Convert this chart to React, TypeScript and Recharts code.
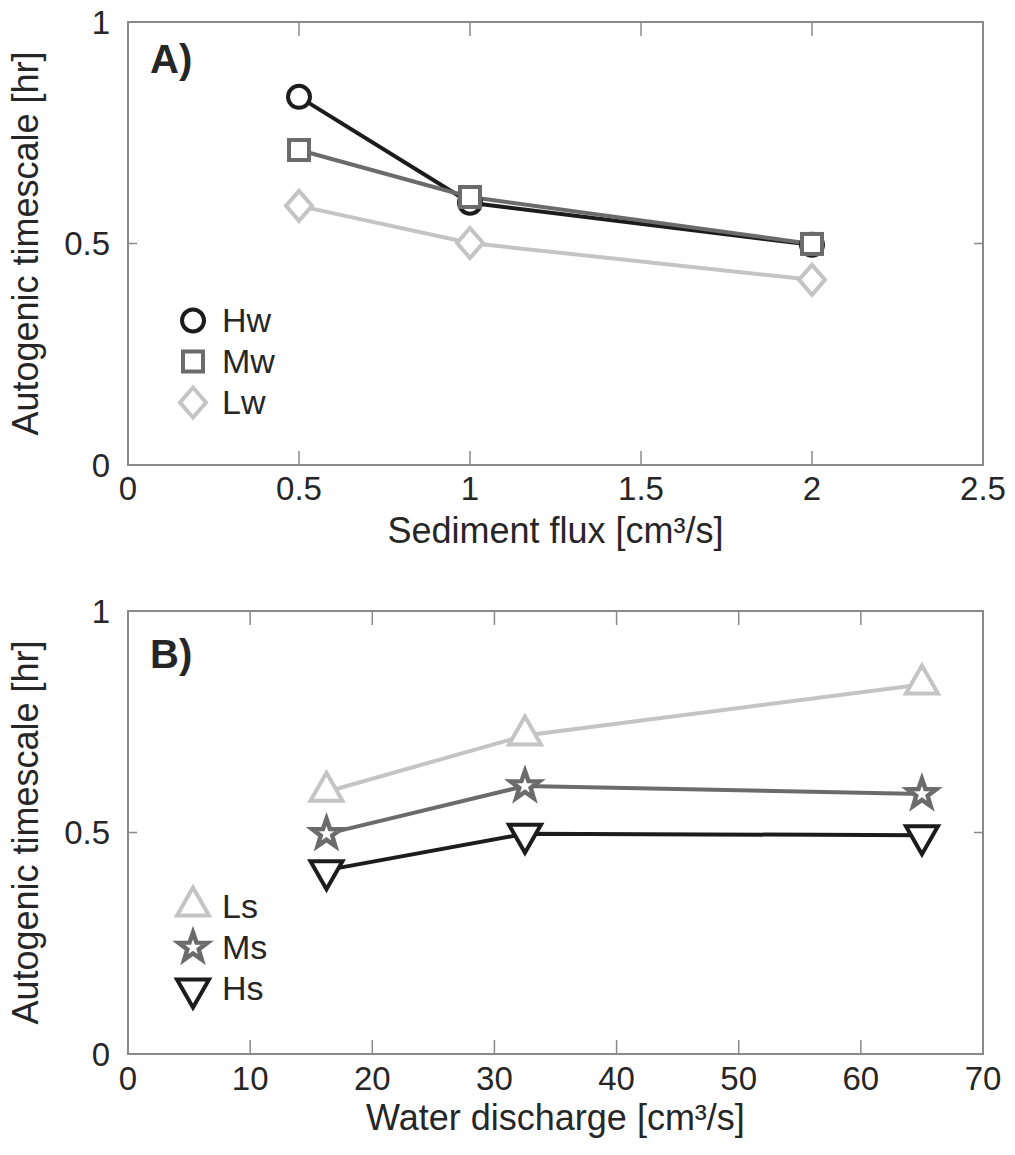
import React from 'react';
import { LineChart, Line, XAxis, YAxis, Legend, ReferenceArea } from 'recharts';

// panel A: timescale vs sediment flux
const sedimentFlux = [0.5, 1, 2];
const hw = [0.831, 0.592, 0.497];
const mw = [0.711, 0.605, 0.499];
const lw = [0.585, 0.501, 0.418];

// panel B: timescale vs water discharge
const waterDischarge = [16.25, 32.5, 65];
const ls = [0.592, 0.719, 0.834];
const ms = [0.497, 0.605, 0.587];
const hs = [0.415, 0.497, 0.494];

const fluxTicks = [0, 0.5, 1, 1.5, 2, 2.5];
const dischargeTicks = [0, 10, 20, 30, 40, 50, 60, 70];
const timeTicks = [0, 0.5, 1];

const FONT = '"Liberation Sans", Arial, Helvetica, sans-serif';
const AXIS = '#8a8a8a';
const TEXT = '#262626';
const DARK = '#1c1c1c';
const MID = '#6b6b6b';
const LIGHT = '#c4c4c4';

const dataA = sedimentFlux.map((x, i) => ({ x, Hw: hw[i], Mw: mw[i], Lw: lw[i] }));
const dataB = waterDischarge.map((x, i) => ({ x, Ls: ls[i], Ms: ms[i], Hs: hs[i] }));

const seriesA = [
  { key: 'Hw', color: DARK, shape: 'circle' },
  { key: 'Mw', color: MID, shape: 'square' },
  { key: 'Lw', color: LIGHT, shape: 'diamond' },
];
const seriesB = [
  { key: 'Ls', color: LIGHT, shape: 'up' },
  { key: 'Ms', color: MID, shape: 'star' },
  { key: 'Hs', color: DARK, shape: 'down' },
];

function Marker({ shape, cx, cy, color }: { shape: string; cx: number; cy: number; color: string }) {
  const common = { fill: '#fff', stroke: color, strokeWidth: 4, strokeLinejoin: 'miter' as const };
  if (shape === 'circle') return <circle cx={cx} cy={cy} r={11} {...common} />;
  if (shape === 'square') return <rect x={cx - 10} y={cy - 10} width={20} height={20} {...common} />;
  if (shape === 'diamond')
    return <polygon points={`${cx},${cy - 15} ${cx + 13},${cy} ${cx},${cy + 15} ${cx - 13},${cy}`} {...common} />;
  if (shape === 'up')
    return <polygon points={`${cx},${cy - 19} ${cx + 16},${cy + 9} ${cx - 16},${cy + 9}`} {...common} />;
  if (shape === 'down')
    return <polygon points={`${cx},${cy + 19} ${cx + 16},${cy - 9} ${cx - 16},${cy - 9}`} {...common} />;
  // star
  const pts: string[] = [];
  for (let k = 0; k < 10; k++) {
    const r = k % 2 === 0 ? 15 : 6;
    const a = -Math.PI / 2 + (k * Math.PI) / 5;
    pts.push(`${cx + r * Math.cos(a)},${cy + r * Math.sin(a)}`);
  }
  return <polygon points={pts.join(' ')} {...common} strokeWidth={4.5} />;
}

const legendContent = (items: typeof seriesA) => () => (
  <div style={{ fontFamily: FONT, fontSize: 34, color: TEXT }}>
    {items.map((s) => (
      <div key={s.key} style={{ display: 'flex', alignItems: 'center', height: 41 }}>
        <svg width={32} height={41} style={{ overflow: 'visible' }}>
          <Marker shape={s.shape} cx={16} cy={20.5} color={s.color} />
        </svg>
        <span style={{ marginLeft: 13 }}>{s.key}</span>
      </div>
    ))}
  </div>
);

// matlab-style ticks: pointing inward, on both opposite sides of the box
const xTick = (plotTop: number, gap: number) => (p: any) => (
  <g>
    <line x1={p.x} x2={p.x} y1={p.y} y2={p.y - 14} stroke={AXIS} strokeWidth={1.5} />
    <line x1={p.x} x2={p.x} y1={plotTop} y2={plotTop + 14} stroke={AXIS} strokeWidth={1.5} />
    <text x={p.x} y={p.y + gap} dy="0.71em" textAnchor="middle" fontSize={33} fontFamily={FONT} fill={TEXT}>
      {String(p.payload.value)}
    </text>
  </g>
);

const yTick = (plotRight: number) => (p: any) => (
  <g>
    <line x1={p.x} x2={p.x + 9} y1={p.y} y2={p.y} stroke={AXIS} strokeWidth={1.5} />
    <line x1={plotRight} x2={plotRight - 9} y1={p.y} y2={p.y} stroke={AXIS} strokeWidth={1.5} />
    <text x={p.x - 18} y={p.y} dy="0.355em" textAnchor="end" fontSize={33} fontFamily={FONT} fill={TEXT}>
      {String(p.payload.value)}
    </text>
  </g>
);

const xLabel = (text: string, dy: number) => (props: any) => {
  const vb = props.viewBox || {};
  return (
    <text x={vb.x + vb.width / 2} y={vb.y + dy} textAnchor="middle" fontSize={36} fontFamily={FONT} fill={TEXT}>
      {text}
    </text>
  );
};

const yLabel = (text: string) => (props: any) => {
  const vb = props.viewBox || {};
  const cy = vb.y + vb.height / 2;
  return (
    <text x={38} y={cy} transform={`rotate(-90, 38, ${cy})`} textAnchor="middle" fontSize={36} fontFamily={FONT} fill={TEXT}>
      {text}
    </text>
  );
};

function Panel({
  data, series, xTicks, xMax, xText, labelDy, tickGap, width, height, top, panel,
}: any) {
  const right = 32;
  const bottomH = height - top - 443;
  return (
    <div style={{ position: 'relative', width, height }}>
      <LineChart width={width} height={height} data={data} margin={{ top, right, bottom: 0, left: 0 }}>
        <XAxis xAxisId="b" dataKey="x" type="number" domain={[0, xMax]} ticks={xTicks} height={bottomH}
          tickSize={0} tickMargin={0} axisLine={false} tickLine={false} tick={xTick(top, tickGap)}
          label={xLabel(xText, labelDy)} />
        <YAxis yAxisId="l" type="number" domain={[0, 1]} ticks={timeTicks} width={128}
          tickSize={0} tickMargin={0} axisLine={false} tickLine={false} tick={yTick(width - right)}
          label={yLabel('Autogenic timescale [hr]')} />
        <ReferenceArea xAxisId="b" yAxisId="l" x1={0} x2={xMax} y1={0} y2={1} fill="none"
          stroke={AXIS} strokeWidth={2} fillOpacity={0} />
        <Legend layout="vertical" align="center" verticalAlign="middle" content={legendContent(series)}
          wrapperStyle={{ left: 177, top: panel.legendTop, width: 200, height: 123 }} />
        {series.map((s: any) => (
          <Line key={s.key} xAxisId="b" yAxisId="l" dataKey={s.key} stroke={s.color} strokeWidth={4}
            isAnimationActive={false} activeDot={false}
            dot={(p: any) => <Marker key={`${s.key}-${p.index}`} shape={s.shape} cx={p.cx} cy={p.cy} color={s.color} />} />
        ))}
      </LineChart>
      <div style={{ position: 'absolute', left: 150, top: panel.labelTop, fontFamily: FONT, fontWeight: 'bold',
        fontSize: 40, lineHeight: '40px', color: TEXT }}>
        {panel.text}
      </div>
    </div>
  );
}

export default function App() {
  return (
    <div style={{ position: 'absolute', left: 0, top: 0, width: 1015, height: 1155, background: '#fff' }}>
      <Panel data={dataA} series={seriesA} xTicks={fluxTicks} xMax={2.5} xText="Sediment flux [cm³/s]"
        labelDy={78} tickGap={12} width={1015} height={580} top={22}
        panel={{ text: 'A)', labelTop: 39, legendTop: 300 }} />
      <Panel data={dataB} series={seriesB} xTicks={dischargeTicks} xMax={70} xText="Water discharge [cm³/s]"
        labelDy={76} tickGap={13} width={1015} height={575} top={31}
        panel={{ text: 'B)', labelTop: 54, legendTop: 306 }} />
    </div>
  );
}
